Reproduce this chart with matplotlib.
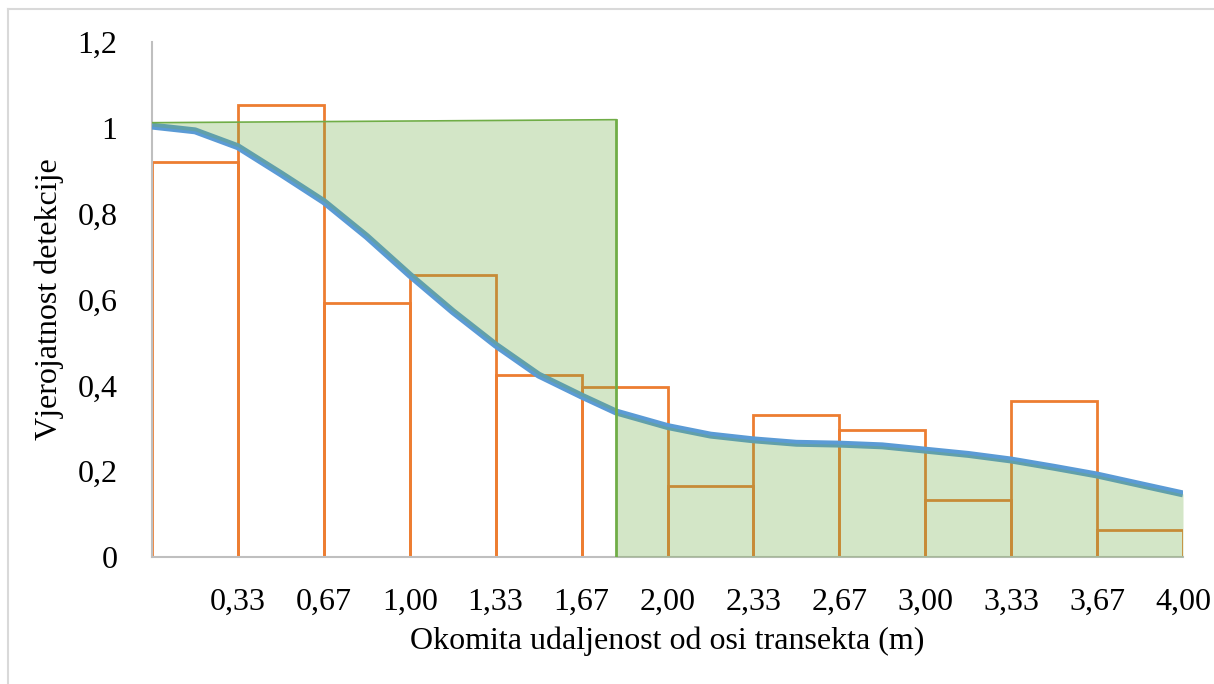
import matplotlib
matplotlib.use("Agg")
import matplotlib.pyplot as plt
import numpy as np

plt.rcParams['font.family'] = ['Liberation Serif', 'DejaVu Serif']

# histogram of detections per distance class (bin edges in m)
bin_edges = [0.0, 0.333, 0.667, 1.0, 1.333, 1.667, 2.0, 2.333, 2.667, 3.0, 3.333, 3.667, 4.0]
bin_heights = [0.921, 1.054, 0.592, 0.657, 0.424, 0.396, 0.166, 0.331, 0.297, 0.132, 0.363, 0.064]

# fitted detection function
curve_x = [0.0, 0.167, 0.333, 0.5, 0.667, 0.833, 1.0, 1.167, 1.333, 1.5, 1.667, 1.8,
           2.0, 2.167, 2.333, 2.5, 2.667, 2.833, 3.0, 3.167, 3.333, 3.5, 3.667, 3.833, 4.0]
curve_y = [1.004, 0.993, 0.956, 0.893, 0.828, 0.747, 0.657, 0.572, 0.494, 0.424, 0.375, 0.338,
           0.304, 0.284, 0.273, 0.265, 0.263, 0.259, 0.249, 0.239, 0.226, 0.209, 0.191, 0.169, 0.147]

# effective strip width rectangle
cutoff = 1.8
rect_top = [1.012, 1.019]

tick_pos = bin_edges[1:]
tick_labels = ["0,33", "0,67", "1,00", "1,33", "1,67", "2,00", "2,33", "2,67", "3,00", "3,33", "3,67", "4,00"]
ytick_pos = [0, 0.2, 0.4, 0.6, 0.8, 1.0, 1.2]
ytick_labels = ["0", "0,2", "0,4", "0,6", "0,8", "1", "1,2"]

fig = plt.figure(figsize=(12.14, 6.84), dpi=100)
ax = fig.add_axes([152 / 1214, 1 - 557 / 684, 1031 / 1214, 515 / 684])

# outer frame lines (screenshot border)
fig.add_artist(plt.Line2D([8 / 1214, 8 / 1214], [0, 1 - 9 / 684], transform=fig.transFigure,
                          color="#d9d9d9", lw=1.5))
fig.add_artist(plt.Line2D([8 / 1214, 1], [1 - 9 / 684, 1 - 9 / 684], transform=fig.transFigure,
                          color="#d9d9d9", lw=1.5))

widths = np.diff(bin_edges)
ax.bar(bin_edges[:-1], bin_heights, width=widths, align="edge", fill=False,
       edgecolor="#ed7d31", linewidth=2.0, zorder=2)

cx = np.array(curve_x)
cy = np.array(curve_y)
ax.plot(cx, cy, color="#5b9bd5", linewidth=5, solid_capstyle="butt",
        solid_joinstyle="round", zorder=3)

left = cx <= cutoff
right = cx >= cutoff
top_line = np.interp(cx[left], [0, cutoff], rect_top)
ax.fill_between(cx[left], cy[left], top_line, color="#70ad47", alpha=0.3, linewidth=0, zorder=4)
ax.fill_between(cx[right], 0, cy[right], color="#70ad47", alpha=0.3, linewidth=0, zorder=4)
ax.plot([0, cutoff], rect_top, color="#70ad47", linewidth=1.2, zorder=5)
ax.plot([cutoff, cutoff], [rect_top[1], 0], color="#70ad47", linewidth=2.0, zorder=5)

ax.set_xlim(0, 4.0)
ax.set_ylim(0, 1.2)
ax.set_xticks(tick_pos)
ax.set_xticklabels(tick_labels)
ax.set_yticks(ytick_pos)
ax.set_yticklabels(ytick_labels)
ax.tick_params(axis="both", length=0, labelsize=23)
ax.tick_params(axis="x", pad=22)
ax.tick_params(axis="y", pad=25)

for s in ["top", "right"]:
    ax.spines[s].set_visible(False)
for s in ["left", "bottom"]:
    ax.spines[s].set_color("#bfbfbf")
    ax.spines[s].set_linewidth(1.5)

ax.set_xlabel("Okomita udaljenost od osi transekta (m)", fontsize=23)
ax.set_ylabel("Vjerojatnost detekcije", fontsize=23)
ax.xaxis.set_label_coords(0.5, -0.135)
ax.yaxis.set_label_coords(-0.085, 0.5)

fig.savefig("out.png", dpi=100)
